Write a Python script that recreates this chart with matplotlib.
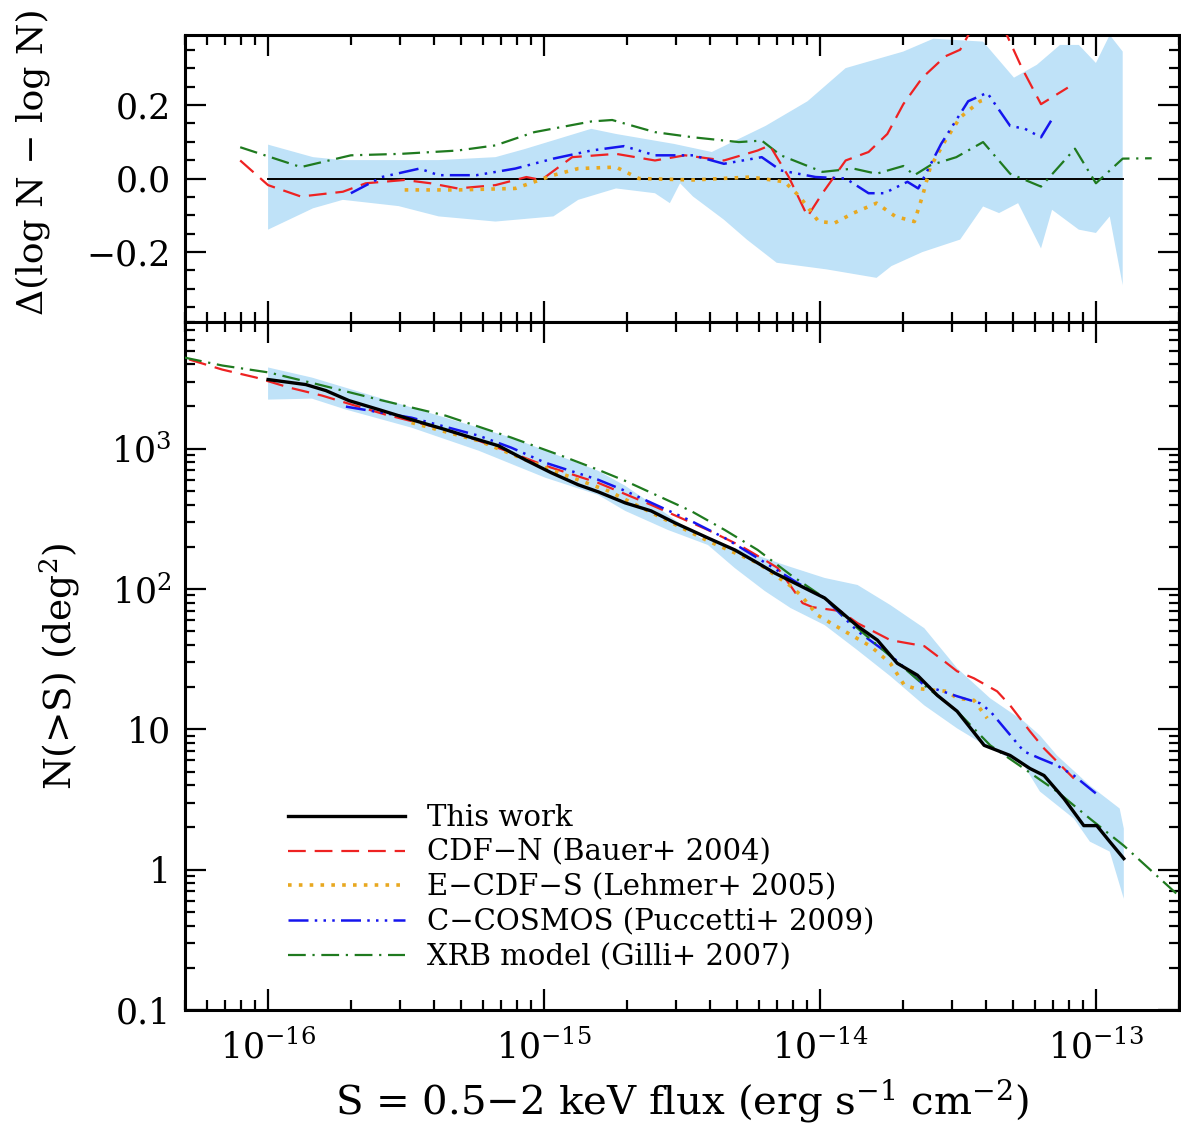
import numpy as np
import matplotlib
matplotlib.use('Agg')
import matplotlib.pyplot as plt
from matplotlib.ticker import MultipleLocator, LogLocator, NullFormatter, FuncFormatter, FixedLocator

plt.rcParams['font.family'] = ['DejaVu Serif']
plt.rcParams['mathtext.fontset'] = 'dejavuserif'

# ---- top panel: log S  vs  delta(log N) ----
band_d_up_logs = [-16.0, -15.837, -15.729, -15.382, -15.176, -15.07, -14.829, -14.739, -14.529, -14.392, -14.197,
                  -14.045, -13.907, -13.698, -13.589, -13.409, -13.297, -13.214, -13.130, -13.062, -13.0, -12.95, -12.903]
band_d_up = [0.092, 0.058, 0.05, 0.05, 0.058, 0.08, 0.135, 0.121, 0.094, 0.072, 0.143,
             0.21, 0.30, 0.345, 0.38, 0.372, 0.274, 0.309, 0.363, 0.363, 0.314, 0.39, 0.345]
band_d_lo_logs = [-16.0, -15.837, -15.729, -15.527, -15.382, -15.176, -14.966, -14.876, -14.739, -14.598, -14.544,
                  -14.507, -14.460, -14.348, -14.265, -14.157, -13.976, -13.795, -13.741, -13.629, -13.492, -13.409,
                  -13.351, -13.282, -13.199, -13.159, -13.062, -13.0, -12.95, -12.903]
band_d_lo = [-0.139, -0.081, -0.058, -0.075, -0.103, -0.117, -0.103, -0.058, -0.027, -0.04, -0.067,
             -0.013, -0.049, -0.112, -0.166, -0.229, -0.247, -0.27, -0.238, -0.2, -0.166, -0.076,
             -0.094, -0.067, -0.19, -0.085, -0.139, -0.148, -0.103, -0.29]

d_xrb_logs = [-16.101, -15.881, -15.7, -15.519, -15.313, -15.176, -15.035, -14.829, -14.753, -14.598, -14.46,
              -14.294, -14.211, -14.142, -13.991, -13.879, -13.795, -13.698, -13.658, -13.6, -13.506, -13.409,
              -13.311, -13.199, -13.076, -13.0, -12.903, -12.798]
d_xrb = [0.085, 0.031, 0.063, 0.067, 0.076, 0.09, 0.126, 0.155, 0.159, 0.126, 0.112,
         0.099, 0.103, 0.063, 0.018, 0.027, 0.013, 0.034, 0.009, 0.036, 0.058, 0.099,
         0.013, -0.022, 0.081, -0.013, 0.054, 0.055]

d_cdfn_logs = [-16.101, -16.0, -15.881, -15.729, -15.646, -15.505, -15.411, -15.313, -15.176, -15.064, -15.01,
               -14.898, -14.739, -14.598, -14.489, -14.348, -14.226, -14.182, -14.113, -14.045, -13.991, -13.907,
               -13.824, -13.756, -13.698, -13.629, -13.546, -13.492, -13.449, -13.394, -13.326, -13.268, -13.199, -13.102]
d_cdfn = [0.049, -0.018, -0.049, -0.036, -0.013, -0.004, -0.013, -0.027, -0.018, 0.004, -0.004,
          0.058, 0.067, 0.049, 0.063, 0.049, 0.076, 0.09, 0.004, -0.103, -0.04, 0.049,
          0.072, 0.121, 0.202, 0.274, 0.332, 0.35, 0.408, 0.45, 0.395, 0.30, 0.202, 0.247]

d_cosmos_logs = [-15.7, -15.588, -15.451, -15.382, -15.245, -15.104, -14.966, -14.829, -14.71, -14.598, -14.46,
                 -14.348, -14.211, -14.142, -14.016, -13.907, -13.824, -13.767, -13.683, -13.644, -13.561, -13.463,
                 -13.394, -13.311, -13.257, -13.199, -13.152]
d_cosmos = [-0.04, 0.004, 0.027, 0.009, 0.009, 0.027, 0.054, 0.076, 0.088, 0.063, 0.063,
            0.04, 0.058, 0.022, 0.004, 0.0, -0.04, -0.04, -0.009, -0.027, 0.094, 0.21,
            0.233, 0.143, 0.135, 0.112, 0.17]

d_ecdfs_logs = [-15.505, -15.313, -15.104, -14.966, -14.876, -14.739, -14.656, -14.46, -14.251, -14.128, -14.074,
                -14.005, -13.947, -13.879, -13.795, -13.727, -13.658, -13.629, -13.6, -13.546, -13.492, -13.42, -13.398]
d_ecdfs = [-0.031, -0.031, -0.027, 0.009, 0.027, 0.031, 0.0, -0.004, 0.004, -0.009, -0.049,
           -0.117, -0.121, -0.094, -0.067, -0.103, -0.117, -0.049, 0.031, 0.103, 0.166, 0.21, 0.215]

zero_line_s = [1e-16, 1.25e-13]

# ---- bottom panel: log S  vs  log N(>S) ----
this_logs = [-16.0, -15.863, -15.79, -15.707, -15.599, -15.48, -15.357, -15.263, -15.165, -15.068, -14.974,
             -14.876, -14.804, -14.706, -14.612, -14.525, -14.406, -14.309, -14.226, -14.164, -14.106, -13.983,
             -13.864, -13.792, -13.72, -13.647, -13.575, -13.503, -13.405, -13.311, -13.239, -13.188, -13.116,
             -13.044, -12.997, -12.95, -12.899]
this_logn = [3.493, 3.457, 3.414, 3.343, 3.279, 3.207, 3.136, 3.079, 3.021, 2.921, 2.829,
             2.743, 2.693, 2.614, 2.557, 2.471, 2.364, 2.279, 2.186, 2.114, 2.057, 1.936,
             1.736, 1.636, 1.471, 1.386, 1.243, 1.129, 0.886, 0.814, 0.721, 0.671, 0.507,
             0.314, 0.314, 0.2, 0.079]

band_up_logs = [-16.0, -15.841, -15.599, -15.357, -15.118, -14.804, -14.706, -14.551, -14.432, -14.273, -14.128,
                -13.983, -13.864, -13.745, -13.622, -13.503, -13.383, -13.261, -13.203, -13.141, -13.022, -12.914, -12.899]
band_up_logn = [3.579, 3.507, 3.364, 3.221, 3.079, 2.843, 2.736, 2.529, 2.364, 2.271, 2.171,
                2.079, 2.029, 1.886, 1.721, 1.436, 1.221, 1.057, 0.957, 0.814, 0.6, 0.436, 0.293]
band_lo_logs = [-16.0, -15.841, -15.718, -15.48, -15.237, -14.995, -14.804, -14.706, -14.551, -14.406, -14.309,
                -14.2, -14.106, -13.983, -13.864, -13.745, -13.622, -13.503, -13.383, -13.261, -13.203, -13.08,
                -13.022, -12.95, -12.899]
band_lo_logn = [3.35, 3.357, 3.279, 3.15, 2.986, 2.793, 2.671, 2.557, 2.421, 2.314, 2.15,
                1.986, 1.864, 1.743, 1.564, 1.379, 1.171, 1.007, 0.864, 0.743, 0.557, 0.364,
                0.2, 0.129, -0.207]

xrb_logs = [-16.304, -16.166, -15.996, -15.816, -15.599, -15.357, -15.118, -14.937, -14.804, -14.706, -14.468,
            -14.345, -14.226, -14.106, -13.983, -13.864, -13.622, -13.503, -13.383, -13.261, -13.141, -13.022,
            -12.899, -12.708]
xrb_logn = [3.65, 3.593, 3.543, 3.457, 3.35, 3.236, 3.079, 2.95, 2.85, 2.771, 2.557,
            2.421, 2.279, 2.1, 1.936, 1.721, 1.314, 1.129, 0.886, 0.721, 0.557, 0.364,
            0.171, -0.171]

cdfn_logs = [-16.286, -16.166, -16.043, -15.924, -15.805, -15.696, -15.574, -15.357, -15.237, -15.118, -14.995,
             -14.804, -14.612, -14.406, -14.287, -14.2, -14.153, -14.106, -14.063, -14.027, -13.926, -13.864,
             -13.745, -13.622, -13.55, -13.503, -13.442, -13.358, -13.311, -13.239, -13.188, -13.116, -13.08]
cdfn_logn = [3.636, 3.564, 3.507, 3.436, 3.379, 3.314, 3.243, 3.136, 3.057, 2.971, 2.879,
             2.757, 2.6, 2.421, 2.307, 2.207, 2.15, 2.021, 1.9, 1.871, 1.843, 1.757,
             1.636, 1.593, 1.486, 1.414, 1.364, 1.271, 1.171, 0.986, 0.864, 0.721, 0.65]

cosmos_logs = [-15.718, -15.48, -15.237, -15.118, -14.995, -14.804, -14.706, -14.468, -14.345, -14.226, -14.081,
               -13.983, -13.864, -13.745, -13.622, -13.503, -13.42, -13.383, -13.322, -13.261, -13.203, -13.141,
               -13.08, -12.986]
cosmos_logn = [3.3, 3.221, 3.093, 3.007, 2.9, 2.779, 2.7, 2.486, 2.364, 2.221, 2.043,
               1.936, 1.7, 1.529, 1.314, 1.236, 1.186, 1.129, 0.986, 0.843, 0.793, 0.743,
               0.671, 0.521]

ecdfs_logs = [-15.48, -15.237, -14.995, -14.768, -14.587, -14.406, -14.226, -14.106, -14.07, -14.009, -13.911,
              -13.817, -13.745, -13.694, -13.658, -13.539, -13.503, -13.442, -13.394]
ecdfs_logn = [3.186, 3.057, 2.864, 2.7, 2.521, 2.343, 2.186, 2.021, 1.957, 1.814, 1.7,
              1.593, 1.471, 1.314, 1.293, 1.271, 1.221, 1.207, 1.079]

labels = ['This work', 'CDF\u2212N (Bauer+ 2004)', 'E\u2212CDF\u2212S (Lehmer+ 2005)',
          'C\u2212COSMOS (Puccetti+ 2009)', 'XRB model (Gilli+ 2007)']

band_col = '#bfe2f8'
styles = {
    'this': dict(color='black', lw=2.4, ls='-'),
    'cdfn': dict(color='#ee2222', lw=1.6, ls=(0, (8, 4))),
    'ecdfs': dict(color='#e8a820', lw=2.6, ls=(0, (1, 2))),
    'cosmos': dict(color='#1515ee', lw=1.8, ls=(0, (8, 2.5, 1, 2.5, 1, 2.5, 1, 2.5))),
    'xrb': dict(color='#1f7a1f', lw=1.6, ls=(0, (8, 3, 1, 3))),
}


def s(v):
    return 10 ** np.asarray(v)


fig = plt.figure(figsize=(11.81, 11.29), dpi=100)
ax1 = fig.add_axes([185 / 1181, 1 - 322 / 1129, 994 / 1181, 287 / 1129])
ax2 = fig.add_axes([185 / 1181, 1 - 1010 / 1129, 994 / 1181, 688 / 1129], sharex=ax1)

# top panel
ax1.fill(np.concatenate([s(band_d_up_logs), s(band_d_lo_logs)[::-1]]),
         np.concatenate([band_d_up, band_d_lo[::-1]]), color=band_col, lw=0, zorder=1)
ax1.plot(zero_line_s, [0, 0], color='black', lw=1.4, zorder=2)
ax1.plot(s(d_xrb_logs), d_xrb, zorder=3, **styles['xrb'])
ax1.plot(s(d_cdfn_logs), d_cdfn, zorder=3, **styles['cdfn'])
ax1.plot(s(d_ecdfs_logs), d_ecdfs, zorder=3, **styles['ecdfs'])
ax1.plot(s(d_cosmos_logs), d_cosmos, zorder=3, **styles['cosmos'])
ax1.set_ylim(-0.39, 0.39)
ax1.yaxis.set_major_locator(FixedLocator([-0.2, 0.0, 0.2]))
ax1.yaxis.set_minor_locator(MultipleLocator(0.05))
ax1.yaxis.set_major_formatter(FuncFormatter(lambda v, p: ('%.1f' % v).replace('-', '\u2212')))
ax1.set_ylabel('\u0394(log N \u2212 log N)', fontsize=26)
ax1.yaxis.set_label_coords(-0.136, 0.56)
plt.setp(ax1.get_xticklabels(), visible=False)

# bottom panel
ax2.fill(np.concatenate([s(band_up_logs), s(band_lo_logs)[::-1]]),
         np.concatenate([s(band_up_logn), s(band_lo_logn)[::-1]]), color=band_col, lw=0, zorder=1)
h_this, = ax2.plot(s(this_logs), s(this_logn), zorder=4, **styles['this'])
h_cdfn, = ax2.plot(s(cdfn_logs), s(cdfn_logn), zorder=3, **styles['cdfn'])
h_ecdfs, = ax2.plot(s(ecdfs_logs), s(ecdfs_logn), zorder=3, **styles['ecdfs'])
h_cosmos, = ax2.plot(s(cosmos_logs), s(cosmos_logn), zorder=3, **styles['cosmos'])
h_xrb, = ax2.plot(s(xrb_logs), s(xrb_logn), zorder=3, **styles['xrb'])

ax2.set_xscale('log')
ax2.set_yscale('log')
ax2.set_xlim(5e-17, 2e-13)
ax2.set_ylim(0.1, 8000)

ylab = {0.1: '0.1', 1: '1', 10: '10', 100: '10$^2$', 1000: '10$^3$'}
ax2.yaxis.set_major_locator(FixedLocator([0.1, 1, 10, 100, 1000]))
ax2.yaxis.set_major_formatter(FuncFormatter(lambda v, p: ylab.get(round(v, 1) if v < 1 else int(round(v)), '')))
ax2.yaxis.set_minor_locator(LogLocator(base=10, subs=np.arange(2, 10), numticks=20))
ax2.yaxis.set_minor_formatter(NullFormatter())
ax2.xaxis.set_major_locator(FixedLocator([1e-16, 1e-15, 1e-14, 1e-13]))
ax2.xaxis.set_major_formatter(FuncFormatter(lambda v, p: '10$^{%d}$' % int(round(np.log10(v)))))
ax2.xaxis.set_minor_locator(LogLocator(base=10, subs=np.arange(2, 10), numticks=20))
ax2.xaxis.set_minor_formatter(NullFormatter())
ax2.set_xlabel('S = 0.5\u22122 keV flux (erg s$^{-1}$ cm$^{-2}$)', fontsize=29, labelpad=8)
ax2.set_ylabel('N(>S) (deg$^2$)', fontsize=27)
ax2.yaxis.set_label_coords(-0.104, 0.5)

for ax in (ax1, ax2):
    for sp in ax.spines.values():
        sp.set_linewidth(2.2)
    ax.tick_params(which='both', direction='in', top=True, right=True, width=1.6)
    ax.tick_params(which='major', length=15, labelsize=25, pad=10)
    ax.tick_params(which='minor', length=7)
ax2.tick_params(axis='x', which='major', pad=14)

ax2.legend([h_this, h_cdfn, h_ecdfs, h_cosmos, h_xrb], labels, loc='upper left',
           bbox_to_anchor=(288 / 1181, 1 - 804 / 1129), bbox_transform=fig.transFigure,
           frameon=False, fontsize=21, handlelength=4.0, handletextpad=0.75,
           labelspacing=0.23, borderpad=0, borderaxespad=0)

fig.savefig('out.png', dpi=100)
